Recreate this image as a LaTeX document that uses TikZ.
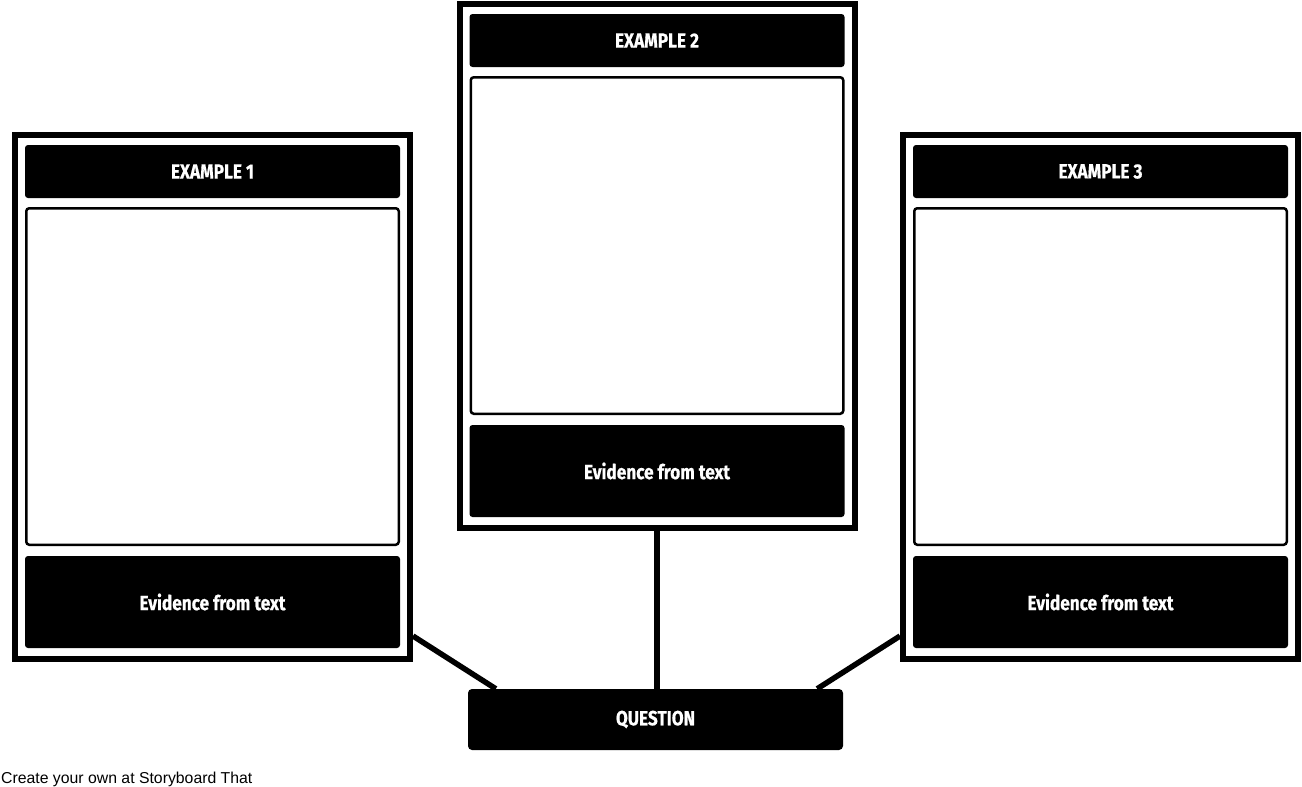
\documentclass[tikz,border=0pt]{standalone}
\usepackage{fontspec}
\newfontfamily\hfont[FakeStretch=0.84,FakeBold=0.6]{Fira Sans}
\newfontfamily\ffont{Liberation Sans}
\begin{document}
\begin{tikzpicture}[x=1pt,y=-1pt,
  frame/.style={draw=black,line width=6pt,minimum width=395pt,minimum height=524pt,inner sep=0pt,fill=white},
  head/.style={fill=black,rounded corners=3pt,minimum width=375pt,minimum height=53pt,inner sep=0pt,text=white,font=\hfont\bfseries\fontsize{20.5}{24}\selectfont},
  content/.style={draw=black,line width=2.5pt,rounded corners=3pt,minimum width=372.5pt,minimum height=336.5pt,inner sep=0pt},
  evid/.style={fill=black,rounded corners=3pt,minimum width=375pt,minimum height=92pt,inner sep=0pt,text=white,font=\hfont\bfseries\fontsize{20.5}{24}\selectfont},
  conn/.style={draw=black,line width=5.5pt},
  foot/.style={font=\ffont\fontsize{15.8}{18}\selectfont,inner sep=0pt,anchor=base west}]
\useasboundingbox[fill=white] (0,0) rectangle (1302,787);
% left panel
\node[frame] (f1) at (212.5,397) {};
\node[head] (h1) at (212.5,171.5) {EXAMPLE 1};
\node[content] (c1) at (212.5,376.5) {};
\node[evid] (e1) at (212.5,602) {Evidence from text};
% middle panel
\node[frame] (f2) at (657,266) {};
\node[head] (h2) at (657,40.5) {EXAMPLE 2};
\node[content] (c2) at (657,245.5) {};
\node[evid] (e2) at (657,471) {Evidence from text};
% right panel
\node[frame] (f3) at (1100.5,397) {};
\node[head] (h3) at (1100.5,171.5) {EXAMPLE 3};
\node[content] (c3) at (1100.5,376.5) {};
\node[evid] (e3) at (1100.5,602) {Evidence from text};
% question
\node[head,minimum height=61pt,rounded corners=4pt] (q) at (655.5,719.5) {QUESTION};
% connectors
\draw[conn] (f2.south) -- (f2.south |- q.north);
\draw[conn] ([yshift=26pt]f1.south east) -- ([xshift=28pt]q.north west);
\draw[conn] ([yshift=26pt]f3.south west) -- ([xshift=-26pt]q.north east);
% footer
\node[foot] (ft) at (1,783) {Create your own at Storyboard That};
\end{tikzpicture}
\end{document}
